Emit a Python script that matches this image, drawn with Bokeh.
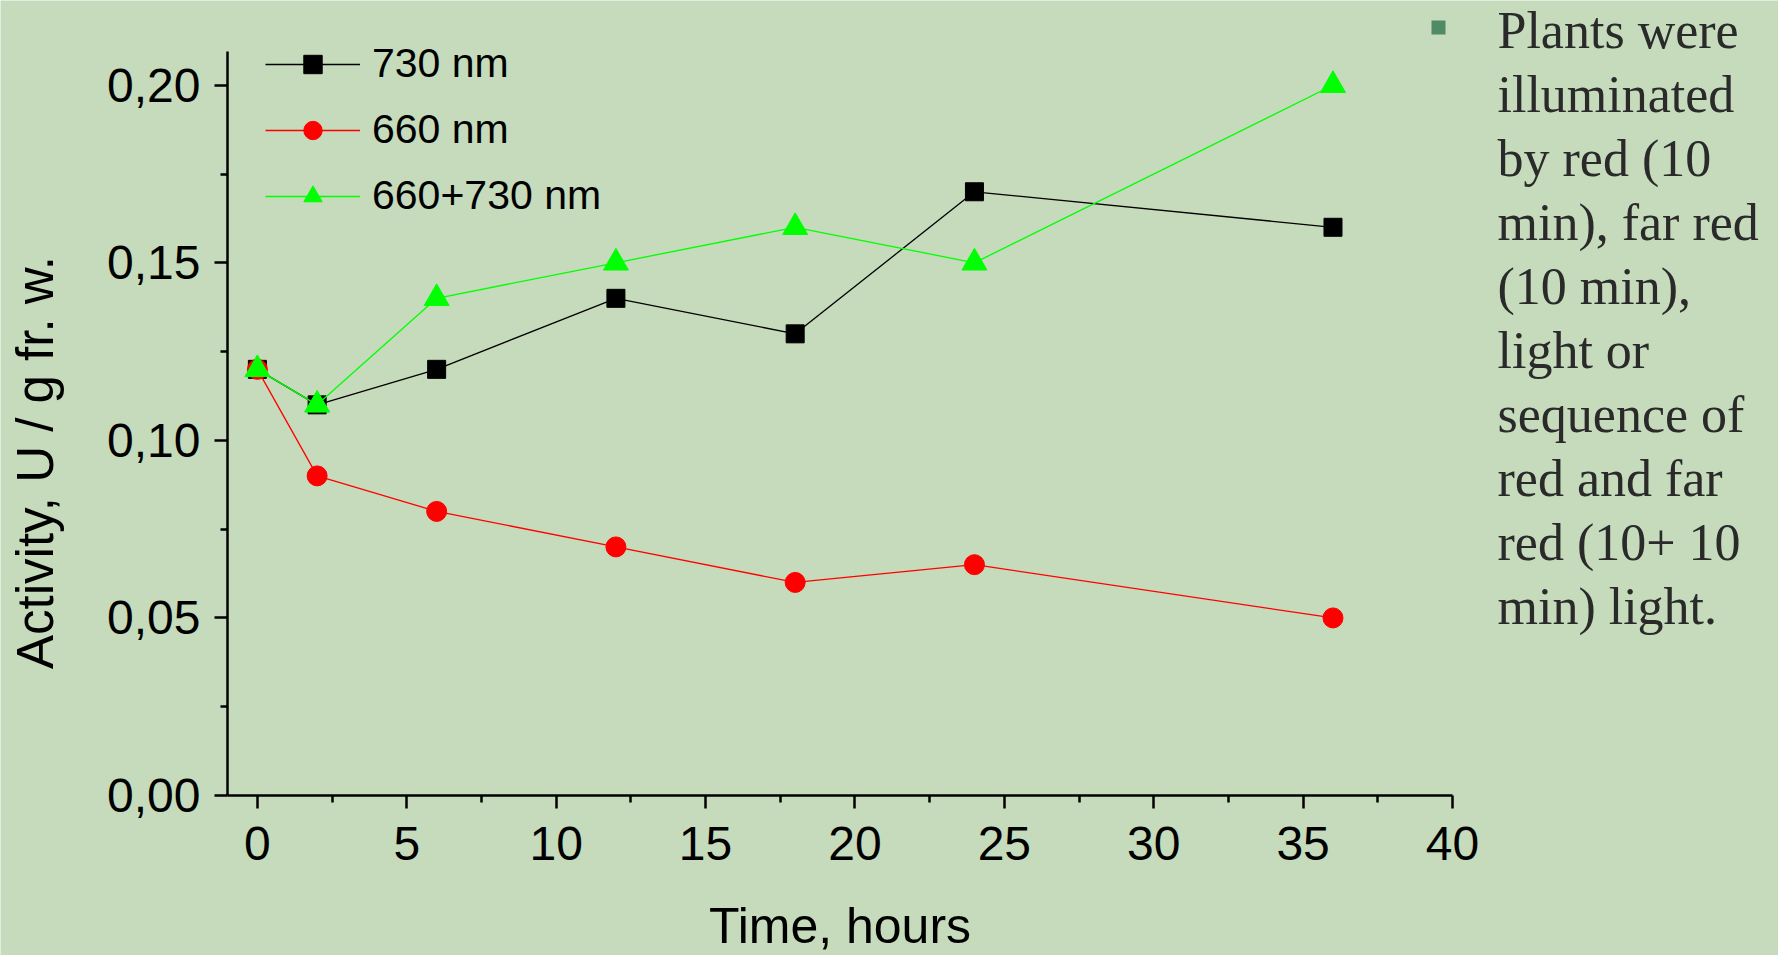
import math
from bokeh.plotting import figure
from bokeh.models import (Range1d, FixedTicker, CustomJSTickFormatter, Legend,
                          LegendItem, Label, BoxAnnotation)
from bokeh.embed import file_html
from bokeh.resources import INLINE

# ---- data ----
hours = [0, 2, 6, 12, 18, 24, 36]
act_730 = [0.12, 0.11, 0.12, 0.14, 0.13, 0.17, 0.16]
act_660 = [0.12, 0.09, 0.08, 0.07, 0.06, 0.065, 0.05]
act_660_730 = [0.12, 0.11, 0.14, 0.15, 0.16, 0.15, 0.20]
series_labels = ["730 nm", "660 nm", "660+730 nm"]
x_ticks = [0, 5, 10, 15, 20, 25, 30, 35, 40]
y_ticks = [0.0, 0.05, 0.10, 0.15, 0.20]
x_title = "Time, hours"
y_title = "Activity, U / g fr. w."
note_lines = ["Plants were", "illuminated", "by red (10", "min), far red",
              "(10 min),", "light or", "sequence of", "red and far",
              "red (10+ 10", "min) light."]

BG = "#c5dbbb"
SANS = "Liberation Sans"
W, H = 1778, 955

# drawn axis extents and their place on the canvas
X_AX = (-1, 40)
Y_AX = (0, 0.2095)
AX_LEFT, AX_RIGHT, AX_TOP, AX_BOTTOM = 227, 1452, 51, 795
PX_X = (AX_RIGHT - AX_LEFT) / (X_AX[1] - X_AX[0])
PX_Y = (AX_BOTTOM - AX_TOP) / (Y_AX[1] - Y_AX[0])
x0 = X_AX[0] - AX_LEFT / PX_X
y0 = Y_AX[0] - (H - AX_BOTTOM) / PX_Y

# frame covers the whole canvas; axes are drawn at fixed locations inside it
p = figure(frame_width=W, frame_height=H, min_border=0,
           x_range=Range1d(x0, x0 + W / PX_X),
           y_range=Range1d(y0, y0 + H / PX_Y),
           output_backend="svg", toolbar_location=None)
p.background_fill_color = BG
p.border_fill_color = BG
p.outline_line_color = None
p.xgrid.visible = False
p.ygrid.visible = False

fmt = CustomJSTickFormatter(code="return tick.toFixed(2).replace('.', ',');")
p.xaxis.ticker = FixedTicker(ticks=x_ticks, minor_ticks=[t + 2.5 for t in x_ticks[:-1]])
p.yaxis.ticker = FixedTicker(ticks=y_ticks, minor_ticks=[t + 0.025 for t in y_ticks[:-1]])
p.yaxis.formatter = fmt
p.xaxis.bounds = X_AX
p.yaxis.bounds = Y_AX
p.xaxis.fixed_location = Y_AX[0]
p.yaxis.fixed_location = X_AX[0]

for ax in (p.xaxis, p.yaxis):
    ax.axis_line_width = 2.5
    ax.axis_line_color = "black"
    ax.major_tick_line_width = 2.5
    ax.minor_tick_line_width = 2.5
    ax.major_tick_line_color = "black"
    ax.minor_tick_line_color = "black"
    ax.major_tick_in = 0
    ax.major_tick_out = 13
    ax.minor_tick_in = 0
    ax.minor_tick_out = 7
    ax.major_label_text_font = SANS
    ax.major_label_text_font_size = "48px"
    ax.major_label_text_color = "black"
p.xaxis.major_label_standoff = 18
p.yaxis.major_label_standoff = 14

# axis titles
p.add_layout(Label(x=839.5, y=H - 925, x_units="screen", y_units="screen", text=x_title,
                   text_font=SANS, text_font_size="50px", text_color="black",
                   text_align="center", text_baseline="alphabetic"))
p.add_layout(Label(x=35, y=H - 462, x_units="screen", y_units="screen", text=y_title,
                   angle=math.pi / 2, text_font=SANS, text_font_size="51px",
                   text_color="black", text_align="center", text_baseline="alphabetic"))

# series (draw order: black, red, green)
l1 = p.line(hours, act_730, line_color="black", line_width=1.3)
s1 = p.scatter(hours, act_730, marker="square", size=18, fill_color="black", line_color="black")
l2 = p.line(hours, act_660, line_color="#ff0000", line_width=1.3)
s2 = p.scatter(hours, act_660, marker="circle", size=20, fill_color="#ff0000", line_color="#ff0000")
l3 = p.line(hours, act_660_730, line_color="#00ff00", line_width=1.3)
s3 = p.scatter(hours, act_660_730, marker="triangle", size=25, fill_color="#00ff00", line_color="#00ff00")

legend = Legend(items=[LegendItem(label=series_labels[0], renderers=[l1, s1]),
                       LegendItem(label=series_labels[1], renderers=[l2, s2]),
                       LegendItem(label=series_labels[2], renderers=[l3, s3])],
                location=(265, H - 219), padding=0, margin=0, spacing=19,
                glyph_width=95, glyph_height=46, label_height=46,
                label_standoff=12, label_text_font=SANS, label_text_font_size="41px",
                label_text_color="black", border_line_color=None,
                background_fill_alpha=0)
p.add_layout(legend, "center")

# side note
p.add_layout(BoxAnnotation(left=1431, right=1445, top=H - 20, bottom=H - 34,
                           left_units="screen", right_units="screen",
                           top_units="screen", bottom_units="screen",
                           fill_color="#4f8c66", fill_alpha=1, line_color=None))
for i, txt in enumerate(note_lines):
    p.add_layout(Label(x=1497, y=H - (30 + 64 * i), x_units="screen", y_units="screen",
                       text=txt, text_font="Liberation Serif", text_font_size="52px",
                       text_color="#2a2a2a", text_baseline="alphabetic", text_align="left"))

open("out.html", "w").write(file_html(p, INLINE))
